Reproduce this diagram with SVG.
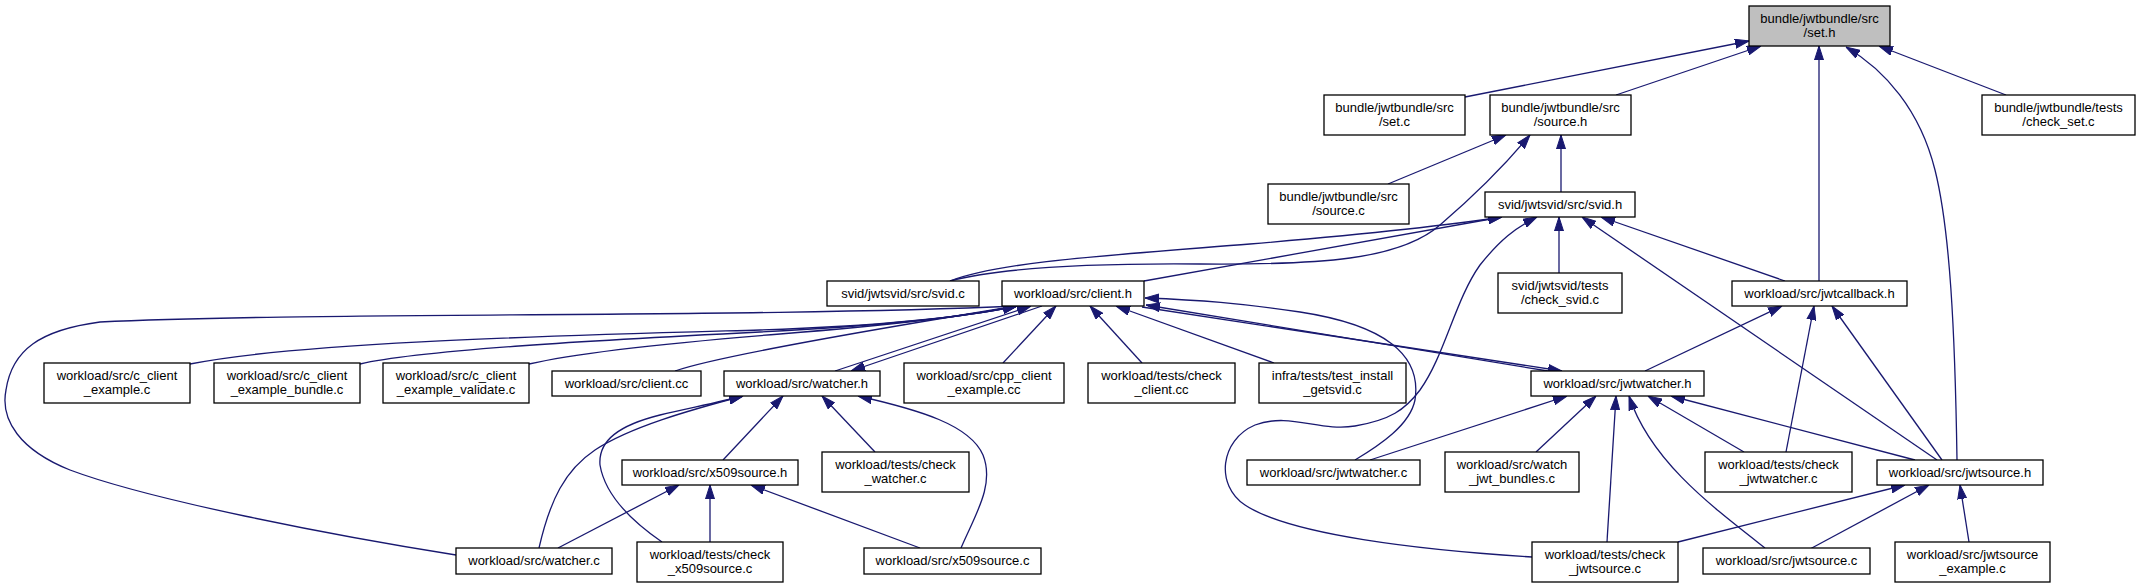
<svg xmlns="http://www.w3.org/2000/svg" width="2139" height="588" viewBox="0 0 2139 588">
<style>
.n rect{fill:#fff;stroke:#000;stroke-width:1.3}
.n.g rect{fill:#bfbfbf}
.n text{font-family:"Liberation Sans",Arial,sans-serif;font-size:13px;text-anchor:middle;fill:#000}
#edges path{fill:none;stroke:#191970;stroke-width:1.3;marker-end:url(#a)}
</style>
<defs>
<marker id="a" viewBox="0 0 14 10" refX="14" refY="5" markerWidth="14" markerHeight="10" orient="auto" markerUnits="userSpaceOnUse"><path d="M0,0.5 L14,5 L0,9.5 z" fill="#191970" stroke="#191970" stroke-width="1"/></marker>
</defs>
<rect width="2139" height="588" fill="#fff"/>
<g id="edges">
<path d="M1465,97 L1749,41"/>
<path d="M1616,95 L1761,46"/>
<path d="M1819,281 L1819,46"/>
<path d="M1957,460 C1955,330 1950,230 1935,170 C1920,110 1885,70 1846,47"/>
<path d="M2006,95 L1879,46"/>
<path d="M1388,184 L1506,135"/>
<path d="M950,281 C1000,268 1080,263 1200,264 C1320,265 1400,260 1440,225 C1475,195 1505,165 1530,135"/>
<path d="M1561,192 L1561,135"/>
<path d="M950,281 C1000,262 1100,256 1250,244 C1380,233 1450,225 1502,217"/>
<path d="M1144,281 L1502,217"/>
<path d="M1559,273 L1559,217"/>
<path d="M1785,281 L1601,217"/>
<path d="M1937,460 L1582,217"/>
<path d="M1532,557 C1420,550 1290,535 1245,505 C1215,485 1220,440 1255,425 C1290,412 1320,432 1355,426 C1390,420 1405,410 1420,390 C1445,355 1455,300 1480,265 C1500,240 1515,228 1537,217"/>
<path d="M190,364 C300,342 550,336 760,330 C880,326 960,318 1017,306"/>
<path d="M360,364 C420,350 600,340 760,332 C880,326 960,318 1017,306"/>
<path d="M529,364 C580,352 680,342 780,334 C880,326 960,318 1017,306"/>
<path d="M675,371 C720,355 900,325 1017,306"/>
<path d="M456,555 C330,535 150,500 70,470 C20,450 0,420 6,390 C12,350 40,330 100,322 C300,312 750,318 1017,306"/>
<path d="M835,371 L1031,306"/>
<path d="M1042,306 L851,371"/>
<path d="M1003,363 L1056,306"/>
<path d="M1142,363 L1090,306"/>
<path d="M1274,363 L1116,306"/>
<path d="M1548,371 L1146,305"/>
<path d="M1142,307 L1562,371"/>
<path d="M1355,460 C1380,445 1410,425 1415,400 C1422,355 1385,325 1300,312 C1240,303 1200,300 1145,298"/>
<path d="M539,548 C550,500 565,470 595,450 C630,427 690,410 743,396"/>
<path d="M662,542 C630,520 605,495 600,465 C598,440 620,425 660,415 C690,408 720,402 743,396"/>
<path d="M723,460 L783,396"/>
<path d="M875,452 L822,396"/>
<path d="M961,548 C975,515 995,485 983,455 C970,425 920,410 858,396"/>
<path d="M558,548 L679,485"/>
<path d="M710,542 L710,485"/>
<path d="M920,548 L751,485"/>
<path d="M1370,460 L1567,396"/>
<path d="M1536,452 L1596,396"/>
<path d="M1607,542 L1616,396"/>
<path d="M1765,548 C1710,505 1650,460 1629,396"/>
<path d="M1744,452 L1648,396"/>
<path d="M1915,460 L1671,396"/>
<path d="M1645,371 L1782,306"/>
<path d="M1786,452 L1814,306"/>
<path d="M1942,460 L1832,306"/>
<path d="M1678,542 L1905,485"/>
<path d="M1810,549 L1929,485"/>
<path d="M1969,542 L1960,485"/>
</g>
<g id="set_h" class="n g"><rect x="1749" y="6" width="141" height="40"/><text x="1819.5" y="22.5">bundle/jwtbundle/src</text><text x="1819.5" y="36.5">/set.h</text></g>
<g id="set_c" class="n"><rect x="1324" y="95" width="141" height="40"/><text x="1394.5" y="111.5">bundle/jwtbundle/src</text><text x="1394.5" y="125.5">/set.c</text></g>
<g id="source_h" class="n"><rect x="1490" y="95" width="141" height="40"/><text x="1560.5" y="111.5">bundle/jwtbundle/src</text><text x="1560.5" y="125.5">/source.h</text></g>
<g id="check_set_c" class="n"><rect x="1982" y="95" width="153" height="40"/><text x="2058.5" y="111.5">bundle/jwtbundle/tests</text><text x="2058.5" y="125.5">/check_set.c</text></g>
<g id="source_c" class="n"><rect x="1268" y="184" width="141" height="40"/><text x="1338.5" y="200.5">bundle/jwtbundle/src</text><text x="1338.5" y="214.5">/source.c</text></g>
<g id="svid_h" class="n"><rect x="1485" y="192" width="150" height="25"/><text x="1560" y="208.5">svid/jwtsvid/src/svid.h</text></g>
<g id="svid_c" class="n"><rect x="827" y="281" width="152" height="25"/><text x="903" y="297.5">svid/jwtsvid/src/svid.c</text></g>
<g id="client_h" class="n"><rect x="1002" y="281" width="142" height="25"/><text x="1073" y="297.5">workload/src/client.h</text></g>
<g id="check_svid_c" class="n"><rect x="1498" y="273" width="124" height="40"/><text x="1560" y="289.5">svid/jwtsvid/tests</text><text x="1560" y="303.5">/check_svid.c</text></g>
<g id="jwtcallback_h" class="n"><rect x="1732" y="281" width="175" height="25"/><text x="1819.5" y="297.5">workload/src/jwtcallback.h</text></g>
<g id="c_client_example" class="n"><rect x="44" y="363" width="146" height="40"/><text x="117" y="379.5">workload/src/c_client</text><text x="117" y="393.5">_example.c</text></g>
<g id="c_client_example_bundle" class="n"><rect x="214" y="363" width="146" height="40"/><text x="287" y="379.5">workload/src/c_client</text><text x="287" y="393.5">_example_bundle.c</text></g>
<g id="c_client_example_validate" class="n"><rect x="383" y="363" width="146" height="40"/><text x="456" y="379.5">workload/src/c_client</text><text x="456" y="393.5">_example_validate.c</text></g>
<g id="client_cc" class="n"><rect x="552" y="371" width="149" height="25"/><text x="626.5" y="387.5">workload/src/client.cc</text></g>
<g id="watcher_h" class="n"><rect x="724" y="371" width="156" height="25"/><text x="802" y="387.5">workload/src/watcher.h</text></g>
<g id="cpp_client_example" class="n"><rect x="904" y="363" width="160" height="40"/><text x="984" y="379.5">workload/src/cpp_client</text><text x="984" y="393.5">_example.cc</text></g>
<g id="check_client_cc" class="n"><rect x="1088" y="363" width="147" height="40"/><text x="1161.5" y="379.5">workload/tests/check</text><text x="1161.5" y="393.5">_client.cc</text></g>
<g id="test_install_getsvid" class="n"><rect x="1259" y="363" width="147" height="40"/><text x="1332.5" y="379.5">infra/tests/test_install</text><text x="1332.5" y="393.5">_getsvid.c</text></g>
<g id="jwtwatcher_h" class="n"><rect x="1531" y="371" width="173" height="25"/><text x="1617.5" y="387.5">workload/src/jwtwatcher.h</text></g>
<g id="x509source_h" class="n"><rect x="622" y="460" width="176" height="25"/><text x="710" y="476.5">workload/src/x509source.h</text></g>
<g id="check_watcher_c" class="n"><rect x="822" y="452" width="147" height="40"/><text x="895.5" y="468.5">workload/tests/check</text><text x="895.5" y="482.5">_watcher.c</text></g>
<g id="jwtwatcher_c" class="n"><rect x="1247" y="460" width="173" height="25"/><text x="1333.5" y="476.5">workload/src/jwtwatcher.c</text></g>
<g id="watch_jwt_bundles_c" class="n"><rect x="1445" y="452" width="134" height="40"/><text x="1512" y="468.5">workload/src/watch</text><text x="1512" y="482.5">_jwt_bundles.c</text></g>
<g id="check_jwtwatcher_c" class="n"><rect x="1705" y="452" width="147" height="40"/><text x="1778.5" y="468.5">workload/tests/check</text><text x="1778.5" y="482.5">_jwtwatcher.c</text></g>
<g id="jwtsource_h" class="n"><rect x="1877" y="460" width="166" height="25"/><text x="1960" y="476.5">workload/src/jwtsource.h</text></g>
<g id="watcher_c" class="n"><rect x="456" y="548" width="156" height="26"/><text x="534" y="565">workload/src/watcher.c</text></g>
<g id="check_x509source_c" class="n"><rect x="637" y="542" width="146" height="40"/><text x="710" y="558.5">workload/tests/check</text><text x="710" y="572.5">_x509source.c</text></g>
<g id="x509source_c" class="n"><rect x="864" y="548" width="177" height="26"/><text x="952.5" y="565">workload/src/x509source.c</text></g>
<g id="check_jwtsource_c" class="n"><rect x="1532" y="542" width="146" height="40"/><text x="1605" y="558.5">workload/tests/check</text><text x="1605" y="572.5">_jwtsource.c</text></g>
<g id="jwtsource_c" class="n"><rect x="1703" y="548" width="167" height="26"/><text x="1786.5" y="565">workload/src/jwtsource.c</text></g>
<g id="jwtsource_example_c" class="n"><rect x="1895" y="542" width="155" height="40"/><text x="1972.5" y="558.5">workload/src/jwtsource</text><text x="1972.5" y="572.5">_example.c</text></g>
</svg>
